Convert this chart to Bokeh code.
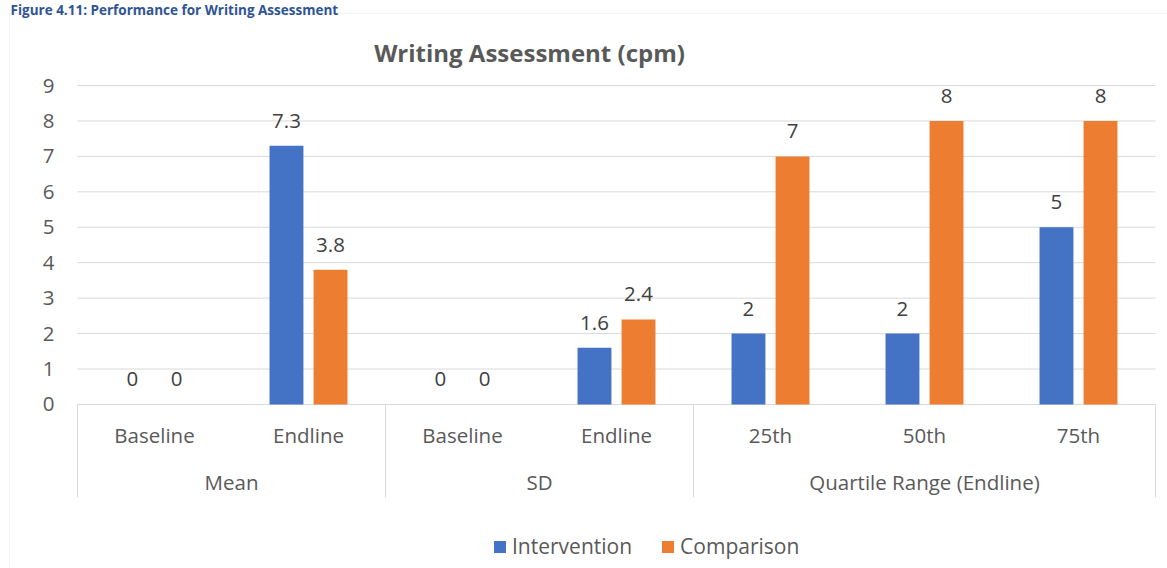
import numpy as np
from bokeh.plotting import figure
from bokeh.models import Range1d, ColumnDataSource, Label, BoxAnnotation, Legend, LegendItem
from bokeh.core.properties import value
from bokeh.embed import file_html
from bokeh.resources import INLINE

# ---- data ----
groups = ["Mean", "SD", "Quartile Range (Endline)"]
group_sizes = [2, 2, 3]
subcats = ["Baseline", "Endline", "Baseline", "Endline", "25th", "50th", "75th"]
intervention = [0, 7.3, 0, 1.6, 2, 2, 5]
comparison = [0, 3.8, 0, 2.4, 7, 8, 8]
y_ticks = [0, 1, 2, 3, 4, 5, 6, 7, 8, 9]
series_names = ["Intervention", "Comparison"]
chart_title = "Writing Assessment (cpm)"
caption = "Figure 4.11: Performance for Writing Assessment"

# ---- style ----
FONT = "Open Sans"
BLUE = "#4472C4"
ORANGE = "#ED7D31"
GRID = "#d9d9d9"
TXT = "#595959"
LBL = "#404040"
FS = "20.5px"

n = len(subcats)
xc = np.arange(n) + 0.5
off = 0.143
bw = 0.22

W, H = 1167, 568
PX = 35.44           # pixels per y unit
UX = 154.0           # pixels per category
x0, x1 = -77 / UX, n + 12 / UX
y_top = 9 + 85 / PX
y_bot = y_top - H / PX

p = figure(width=W, height=H, output_backend="svg", toolbar_location=None,
           x_range=Range1d(x0, x1), y_range=Range1d(y_bot, y_top),
           x_axis_location=None, y_axis_location=None, min_border=0)
p.outline_line_color = None
p.background_fill_color = "white"
p.border_fill_color = "white"
p.grid.visible = False

# border around the chart area
p.add_layout(BoxAnnotation(left=9, top=13, right=1400, bottom=800,
                           left_units="canvas", right_units="canvas",
                           top_units="canvas", bottom_units="canvas",
                           fill_alpha=0, line_color=GRID, line_width=1, level="underlay"))

# horizontal gridlines
p.segment(x0=[0] * len(y_ticks), y0=y_ticks, x1=[n] * len(y_ticks), y1=y_ticks,
          line_color=GRID, line_width=1)
# y tick labels
p.text(x=[-23 / UX] * len(y_ticks), y=y_ticks, text=[str(t) for t in y_ticks],
       text_align="right", text_baseline="middle",
       text_font=value(FONT), text_font_size=FS, text_color=TXT)

src = ColumnDataSource(dict(
    xi=xc - off, xcmp=xc + off,
    inter=intervention, comp=comparison,
    inter_lbl=[f"{v:g}" for v in intervention],
    comp_lbl=[f"{v:g}" for v in comparison],
))

r1 = p.vbar(x="xi", top="inter", bottom=0, width=bw, source=src,
            fill_color=BLUE, line_color=None)
r2 = p.vbar(x="xcmp", top="comp", bottom=0, width=bw, source=src,
            fill_color=ORANGE, line_color=None)

# data labels
for xk, yk, tk in [("xi", "inter", "inter_lbl"), ("xcmp", "comp", "comp_lbl")]:
    p.text(x=xk, y=yk, text=tk, source=src, y_offset=-25,
           text_align="center", text_baseline="middle",
           text_font=value(FONT), text_font_size=FS, text_color=LBL)

# category separators
bounds = np.concatenate([[0], np.cumsum(group_sizes)])
p.segment(x0=bounds, y0=0, x1=bounds, y1=-2.62, line_color=GRID, line_width=1)

# sub-category labels
p.text(x=xc, y=[-0.875] * n, text=subcats, text_align="center", text_baseline="middle",
       text_font=value(FONT), text_font_size=FS, text_color=TXT)
# group labels
gc = (bounds[:-1] + bounds[1:]) / 2
p.text(x=gc, y=[-2.2] * len(groups), text=groups, text_align="center", text_baseline="middle",
       text_font=value(FONT), text_font_size=FS, text_color=TXT)

# title
p.add_layout(Label(x=(529 - 77) / UX, y=y_top - 52 / PX, text=chart_title, text_align="center",
                   text_baseline="middle", text_font=FONT, text_font_size="24px",
                   text_font_style="bold", text_color=TXT))

# figure caption
p.add_layout(Label(x=10, y=H, x_units="screen", y_units="screen", text=caption,
                   text_align="left", text_baseline="top", text_font=FONT,
                   text_font_size="13.5px", text_font_style="bold", text_color="#2E5496"))

legend = Legend(items=[LegendItem(label=series_names[0], renderers=[r1]),
                       LegendItem(label=series_names[1], renderers=[r2])],
                orientation="horizontal", location=(492, 8),
                glyph_width=15, glyph_height=15, label_standoff=5, spacing=28,
                padding=0, margin=0, border_line_color=None, background_fill_alpha=0,
                label_text_font=FONT, label_text_font_size="21px", label_text_color=TXT)
p.add_layout(legend, "center")

open("out.html", "w").write(file_html(p, INLINE))
